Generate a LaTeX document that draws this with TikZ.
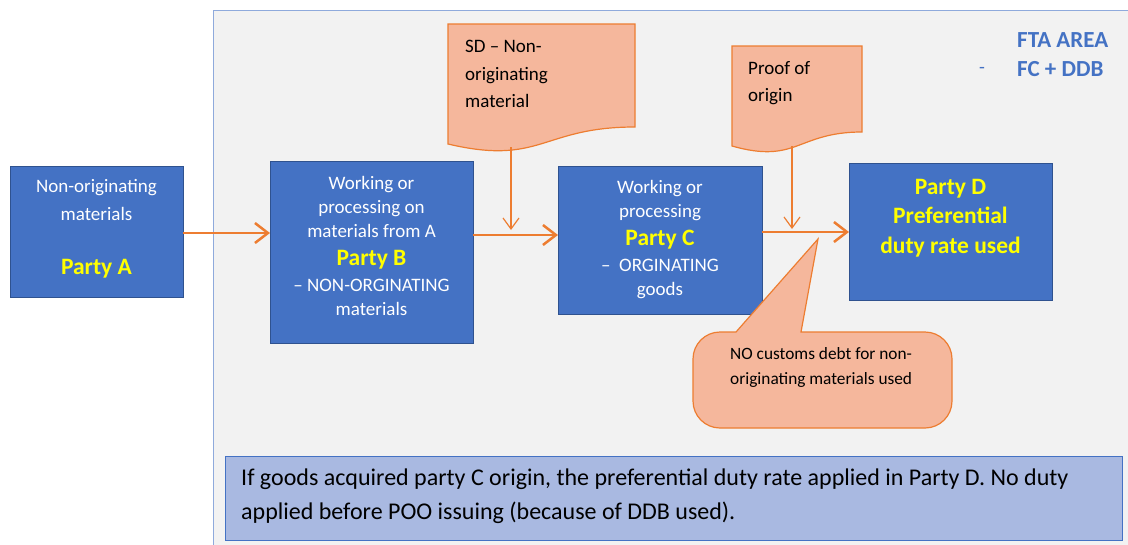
\documentclass[tikz,border=0pt]{standalone}
\usepackage{fontspec}
\setmainfont{Carlito}
\usetikzlibrary{arrows.meta}
\definecolor{boxblue}{HTML}{4472C4}
\definecolor{boxedge}{HTML}{2F528F}
\definecolor{flow}{HTML}{ED7D31}
\definecolor{docfill}{HTML}{F5B79C}
\definecolor{areafill}{HTML}{F2F2F2}
\definecolor{areaedge}{HTML}{8FAADC}
\definecolor{notefill}{HTML}{A9B9E1}
\definecolor{hilite}{HTML}{FFFF00}
\definecolor{ftablue}{HTML}{4472C4}
\begin{document}
\begin{tikzpicture}[x=1pt,y=-1pt,
  party/.style={draw=boxedge, fill=boxblue, line width=1pt, inner sep=0pt, outer sep=0pt},
  boxtext/.style={text=white, align=center, inner sep=0pt, anchor=north,
    font=\fontsize{19}{24}\selectfont},
  doc/.style={draw=flow, fill=docfill, line width=1.2pt},
  doctext/.style={text=black, align=left, inner sep=0pt, anchor=north west,
    font=\fontsize{19}{27.5}\selectfont},
  mainflow/.style={draw=flow, line width=2.5pt, -{Straight Barb[length=13pt,width=20pt]}},
  sideflow/.style={draw=flow, line width=1.2pt, -{Straight Barb[length=11pt,width=16pt]}},
  ftalabel/.style={text=ftablue, inner sep=0pt, font=\fontsize{23}{28}\selectfont\bfseries}]
\newcommand{\partyname}[1]{{\color{hilite}\bfseries\fontsize{23.5}{24}\selectfont #1}}

\useasboundingbox (0,0) rectangle (1128,544);

% FTA area
\draw[draw=areaedge, fill=areafill, line width=1pt] (213,10) rectangle (1140,560);
\node[ftalabel, anchor=west] (fta) at (1017,40) {FTA AREA};
\node[ftalabel, anchor=west] (fcddb) at (1017,69) {FC + DDB};
\node[text=ftablue, inner sep=0pt, font=\fontsize{19}{24}\selectfont] (dash) at (982,70) {-};

% parties
\node[party, minimum width=173pt, minimum height=131pt] (pA) at (96.5,231.5) {};
\node[party, minimum width=203pt, minimum height=182pt] (pB) at (371.5,252) {};
\node[party, minimum width=204pt, minimum height=148pt] (pC) at (660,240) {};
\node[party, minimum width=203pt, minimum height=137pt] (pD) at (950.5,231.5) {};

\node[boxtext, font=\fontsize{19}{28}\selectfont] (tA) at (96.5,179)
  {Non-originating\\materials\\[26pt]\partyname{Party A}};
\node[boxtext] (tB) at (371.5,176)
  {Working or\\processing on\\materials from A\\[4pt]\partyname{Party B}\\[2pt]– NON-ORGINATING\\materials};
\node[boxtext] (tC) at (660,180)
  {Working or\\processing\\[4pt]\partyname{Party C}\\[2pt]–\ \ ORGINATING\\goods};
\node[boxtext, text=hilite, font=\fontsize{23.5}{29.5}\selectfont\bfseries] (tD) at (950.5,179)
  {Party D\\Preferential\\duty rate used};

% supporting documents
\draw[doc] (448,24) -- (635,24) -- (635,127)
  .. controls (541.5,127) and (541.5,166) .. (448,144) -- cycle;
\node[doctext] (sd) at (465,40) {SD – Non-\\originating\\material};
\draw[doc] (732,46) -- (862,46) -- (862,132)
  .. controls (797,132) and (797,164.5) .. (732,146) -- cycle;
\node[doctext] (poo) at (748,61) {Proof of\\origin};

% flows
\draw[mainflow] ([yshift=-1.5pt]pA.east) -- ([yshift=-1.5pt]pA.east -| pB.west);
\draw[mainflow] (pB.east |- 0,235) -- (pC.west |- 0,235);
\draw[mainflow] (pC.east |- 0,232) -- (pD.west |- 0,232);

\coordinate (sdfoot) at (511,147);
\coordinate (sdin) at (511,230);
\coordinate (poofoot) at (792,146);
\coordinate (pooin) at (792,229);
\draw[sideflow] (sdfoot) -- (sdin);
\draw[sideflow] (poofoot) -- (pooin);

% callout
\draw[doc] (736,332) -- (818,239) -- (801,332) -- (925,332)
  .. controls (939.9,332) and (952,344.1) .. (952,359) -- (952,401)
  .. controls (952,415.9) and (939.9,428) .. (925,428) -- (720,428)
  .. controls (705.1,428) and (693,415.9) .. (693,401) -- (693,359)
  .. controls (693,344.1) and (705.1,332) .. (720,332) -- cycle;
\node[doctext, font=\fontsize{17.3}{25}\selectfont] (debt) at (730,347)
  {NO customs debt for non-\\originating materials used};

% summary note
\node[draw=boxblue, fill=notefill, line width=1pt, minimum width=897pt, minimum height=84pt,
  inner sep=0pt] (note) at (673.5,498) {};
\node[text=black, align=left, anchor=north west, inner sep=0pt,
  font=\fontsize{24}{34}\selectfont] (notetext) at (241,469)
  {If goods acquired party C origin, the preferential duty rate applied in Party D. No duty\\
   applied before POO issuing (because of DDB used).};
\end{tikzpicture}
\end{document}
